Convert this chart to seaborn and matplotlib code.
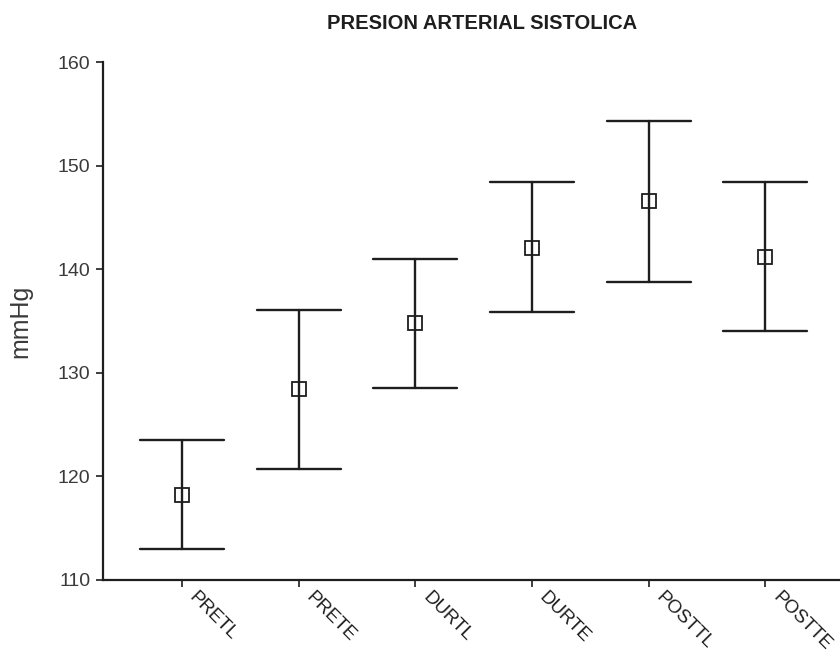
import numpy as np
import pandas as pd
import matplotlib
matplotlib.use("Agg")
import matplotlib.pyplot as plt
import seaborn as sns

# Systolic pressure per phase: mean with lower / upper interval limits (mmHg)
phases = ["PRETL", "PRETE", "DURTL", "DURTE", "POSTTL", "POSTTE"]
means = [118.2, 128.4, 134.8, 142.0, 146.6, 141.2]
lower = [113.0, 120.7, 128.5, 135.9, 138.8, 134.0]
upper = [123.5, 136.1, 141.0, 148.4, 154.3, 148.4]
y_ticks = [110, 120, 130, 140, 150, 160]

# Long form: three rows per phase; the median is the mean, min/max the limits
rows = []
for p, lo, m, hi in zip(phases, lower, means, upper):
    for v in (lo, m, hi):
        rows.append({"fase": p, "valor": v})
df = pd.DataFrame(rows)

sns.set_theme(style="ticks")
plt.rcParams["font.family"] = ["Liberation Sans", "DejaVu Sans"]

fig = plt.figure(figsize=(8.4, 6.59), dpi=100)
ax = fig.add_axes([0.1226, 0.1199, 0.8774, 0.7860])

ink = "#1e1e1e"
grey = "#3a3a3a"
sns.pointplot(
    data=df, x="fase", y="valor", order=phases,
    estimator="median", errorbar=lambda v: (v.min(), v.max()),
    linestyle="none", marker="s", capsize=0.72,
    color=ink, err_kws={"linewidth": 1.7},
    markersize=9.5, markerfacecolor="white", markeredgecolor=ink,
    markeredgewidth=1.3, ax=ax,
)

ax.set_xlim(-0.677, 5.64)
ax.set_ylim(110, 160)
ax.set_yticks(y_ticks)
ax.set_yticklabels([str(t) for t in y_ticks], color=grey, fontsize=14)
ax.set_xticks(range(len(phases)))
ax.set_xticklabels([])

# slanted category names, starting just right of and below each tick
for i, name in enumerate(phases):
    ax.annotate(name, xy=(i, 0), xycoords=("data", "axes fraction"),
                xytext=(16, -9), textcoords="offset pixels",
                rotation=-45, rotation_mode="anchor", ha="left", va="top",
                fontsize=13.5, color=ink, annotation_clip=False)

ax.set_xlabel("")
ax.set_ylabel("mmHg", fontsize=18, color=grey, labelpad=18)
ax.set_title("PRESION ARTERIAL SISTOLICA", fontsize=14.5, fontweight="bold",
             color=ink, pad=24, x=0.515)

for side in ("top", "right"):
    ax.spines[side].set_visible(False)
for side in ("left", "bottom"):
    ax.spines[side].set_color(ink)
    ax.spines[side].set_linewidth(1.6)
ax.tick_params(axis="both", direction="out", length=5, width=1.2, color=ink)
ax.tick_params(axis="y", pad=4)

fig.savefig("out.png", dpi=100, facecolor="white")
